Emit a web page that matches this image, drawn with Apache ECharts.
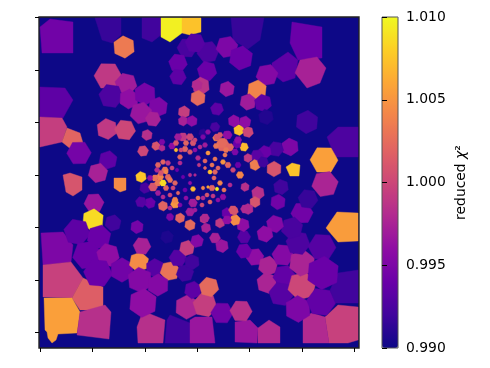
<!DOCTYPE html>
<html><head><meta charset="utf-8">
<script src="https://cdn.jsdelivr.net/npm/echarts@6/dist/echarts.min.js"></script>
<style>html,body{margin:0;padding:0;background:#fff}#c{width:490px;height:368px}</style>
</head><body><div id="c"></div>
<script>
// Map coordinates of the cell seeds; last field = reduced chi^2
const colorbarTicks = [0.990, 0.995, 1.000, 1.005, 1.010];
const xTickValues = [40, 92.4, 144.8, 197.2, 249.6, 302, 354.4];
const yTickValues = [17.5, 70, 122.5, 175, 227.5, 280, 332.5];
const plasma = ['#0d0887','#41049d','#6a00a8','#8f0da4','#b12a90','#cc4778','#e16462','#f2844b','#fca636','#fcce25','#f0f921'];

// large irregular cells: outline vertices
const bigCellOutlines = [
 [[40,27],[50,19],[73,22],[73,53],[42,53]],
 [[95,18],[121,18],[121,35],[112,43],[102,40]],
 [[142,18],[161,18],[161,35],[152,42],[142,38]],
 [[161,18],[182,18],[182,33],[170,42],[161,37]],
 [[182,18],[201,18],[201,32],[190,35],[182,33]],
 [[40,87],[65,88],[73,100],[63,118],[40,117]],
 [[40,117],[62,118],[67,127],[62,142],[40,147]],
 [[62,142],[67,128],[80,133],[83,143],[72,150]],
 [[231,18],[264,18],[260,40],[248,49],[233,40]],
 [[292,22],[322,27],[322,58],[298,60],[290,43]],
 [[272,63],[288,52],[298,60],[295,78],[283,82],[272,73]],
 [[295,73],[300,60],[317,57],[326,68],[320,83],[307,88]],
 [[327,137],[338,127],[358,127],[358,157],[335,157]],
 [[286,167],[292,163],[300,165],[299,176],[290,176]],
 [[114,178],[126,178],[126,190],[120,192],[114,188]],
 [[63,175],[70,173],[82,177],[82,190],[73,196],[66,192]],
 [[41,233],[63,232],[73,245],[71,262],[43,265]],
 [[43,265],[71,262],[83,278],[72,298],[43,297]],
 [[83,278],[103,287],[103,310],[80,310],[72,298]],
 [[44,298],[72,298],[80,312],[77,333],[58,334],[56,340],[52,343],[48,338],[47,332],[45,330]],
 [[80,312],[105,305],[111,312],[109,339],[77,335]],
 [[143,311],[165,320],[163,343],[138,343],[137,327]],
 [[170,315],[190,323],[190,343],[165,343],[167,320]],
 [[195,317],[212,317],[215,343],[190,343],[190,320]],
 [[235,322],[250,320],[258,328],[257,343],[235,342]],
 [[258,328],[269,320],[280,327],[280,343],[258,343]],
 [[338,273],[358,270],[358,303],[335,303],[330,290]],
 [[325,317],[338,305],[358,307],[358,340],[348,343],[329,343]],
 [[303,317],[312,313],[325,317],[329,343],[303,343]],
 [[326,228],[337,212],[358,213],[358,241],[338,242]]
];
const bigCellValues = [0.9944,0.9916,0.992,1.0096,1.0074,0.9934,0.9994,1.002,0.9916,0.994,0.9934,0.9974,0.9926,1.0074,1.0044,1.001,0.995,0.9996,1.0016,1.0056,0.9984,0.9984,0.992,0.9966,0.9966,0.998,0.992,0.9996,0.998,1.0054];

// roughly round cells: x, y, radius, value
const roundCells = [
[124,47,10,1.0034],[108,76,12.5,0.999],[126,84,10,0.997],[111,96,11,0.9926],[129,99,9,0.996],[145,94,10,0.9946],[158,107,9,0.995],[141,113,10,0.9966],[153,119,7,0.9974],[107,129,9.5,0.999],[125,130,9.5,1.0],
[79,153,11,0.9946],[108,160,8.5,0.9934],[98,173,9,0.9974],[187,48,9,0.9924],[178,63,8.5,0.994],[178,77,7.5,0.9934],[208,52,10,0.9926],[195,43,9,0.993],[227,47,10,0.995],[241,58,11,0.994],
[267,75,10,0.9954],[257,90,9,1.004],[248,102,7.5,0.997],[263,103,8,0.9934],[266,117,7,0.9908],[307,122,10.5,0.992],[290,147,8,0.995],[276,149,7,0.9924],[265,152,6,0.994],[257,156,6,0.9932],
[324,160,12.5,1.0056],[325,184,12,0.9976],[274,169,7,1.001],[255,165,5,1.0036],[263,162,5,0.992],[248,158,4,0.999],[244,147,4,1.007],[237,144,4,0.994],[239,130,5,1.0074],[248,132,5,1.0],[245,122,5.5,0.996],[234,121,5.5,0.996],
[227,89,7,0.9966],[207,71,9,0.994],[201,86,8,0.9986],[198,98,7,1.0024],[217,109,6,0.9934],[215,127,4.5,0.9924],[203,133,4,0.991],[227,135,4,0.996],[216,138,3,1.004],[223,145,6,1.002],[230,148,3,1.002],
[147,135,5,0.9984],[143,151,5,1.0],[156,146,4,1.001],[162,148,3,0.998],[184,112,5.5,0.9994],[183,121,4.5,0.9974],[192,121,5,0.996],[197,85,5,0.998],[141,177,5,1.0076],
[94,203,9,0.9966],[93,220,10,1.0086],[113,223,7.5,0.992],[137,227,6,0.9946],[77,232,12,0.9934],[99,237,11,0.994],[87,255,13,0.994],[108,255,10.5,0.996],[98,273,13,0.994],[122,270,11,0.9944],[139,262,9,1.0044],[142,246,8,0.9974],[155,268,8.5,0.993],[170,271,9,1.003],[140,280,11.5,0.9954],[158,285,10,0.9954],[143,303,13,0.996],[187,307,11,0.9976],[193,290,8,0.9934],[185,273,8,0.992],[178,258,8,0.993],[192,262,7,0.992],[187,248,7,0.9994],[197,241,6,0.9954],[167,237,6,0.9906],[190,225,5,1.0024],[180,218,4.5,1.002],[170,217,3.5,0.995],[163,206,4.5,1.002],[175,204,4,1.005],[150,203,5,0.994],[141,202,5,0.993],[145,188,5,0.9924],[190,212,4,0.997],[193,203,4,0.997],
[205,305,11,0.9994],[209,287,9,1.0024],[222,313,10,0.9944],[241,311,10,0.9984],[267,283,9.5,0.9976],[255,257,8,0.996],[268,266,9,0.9976],[283,255,10,0.9954],[284,276,10,0.9936],[281,294,11,0.993],[302,286,13,1.0],[302,263,12,0.9976],[298,243,11,0.9926],[322,247,12.5,0.993],[323,273,15,0.994],[298,309,12,0.995],[321,302,13,0.9936],
[302,213,10,0.9944],[292,228,10,0.9924],[275,224,8,0.9954],[265,234,7.5,0.996],[244,237,6,0.993],[244,251,7,0.994],[245,187,4,0.9984],[258,193,6,0.9984],[255,202,5,1.001],[248,209,5,0.998],[278,202,7,0.9944],[281,187,7,0.992],[308,199,9,0.9916],[243,225,6,0.996],[235,220,5,1.0044],[234,211,4,1.001],[227,213,5,0.994],[220,223,4.5,0.999],[204,219,4,0.999],[206,228,4.5,0.9974],[215,238,5,0.9974],[222,246,6,0.9966]
];

// dense cells around the centre
const centreCells = [
[183,137,4,0.999],[190,137,3.3,1.0],[178,137,3.3,0.997],[193,143,2.7,1.001],[176,150,1.7,1.007],[185,149,2.7,1.002],[190,152,2.3,1.001],[180,157,2.3,1.002],[195,150,2,0.996],[163,162,2.3,1.002],[172,146,3,0.996],[162,142,2.7,0.995],[165,170,3,1.003],[157,170,2.3,0.998],[172,168,2,1.0],[180,163,2,0.998],[160,177,3.3,1.004],[168,177,2.7,1.002],[153,187,4,1.001],[175,183,2.3,1.002],[173,188,2,1.0],[175,200,2.7,1.004],[163,197,2,0.998],[190,183,1.7,0.996],[198,198,2,1.003],[192,202,2.7,0.997],[205,218,4,0.998],[203,198,2,0.998],[210,202,2,1.002],[212,188,2.7,1.002],[220,183,2.3,1.004],[214,178,2,1.002],[210,172,2,1.007],[215,172,2.3,1.002],[208,153,2,1.005],[205,161,2,1.002],[215,159,2,1.003],[223,162,2.3,1.005],[228,165,2.7,1.002],[233,170,2.3,1.0],[222,143,4.7,1.0024],[217,137,3,1.001],[230,147,3.3,1.002],[228,135,3.7,0.996],[238,140,3.3,0.996],[235,152,3,0.995],[238,165,2.7,0.994],[240,175,3.3,1.004],[208,132,2.3,0.996],[203,137,2.3,0.995],[205,145,2.3,0.997],[198,158,2.3,0.998],[190,175,1.7,0.998],[195,175,1.3,0.998],[223,197,2.7,0.996],[233,210,4,1.001],[227,220,4,0.996],[245,209,4,0.998],[183,177,1.7,0.994],[168,163,2.3,0.999],[177,170,1.7,0.994],[185,190,2,0.994],[203,188,1.7,1.004],[208,187,1.3,1.006],
[158,165,2.5,1.002],[161,173,2.5,1.001],[155,178,3,1.003],[166,172,2,1.004],[170,180,2.5,1.003],[158,183,3,1.003],[166,188,2.5,1.002],[170,195,2,1.0],[178,193,1.7,1.002],[181,150,2,1.0],[176,143,2.5,1.001],[186,143,2.5,1.002],[195,140,2,1.0],[200,147,2,0.998],[199,165,1.7,0.999],[205,168,1.5,1.002],[212,165,2,1.003],[218,168,2,1.002],[225,155,2,1.003],[216,146,2.5,1.003],[226,150,2.5,1.003],[220,135,2.5,1.001],[207,195,2,1.001],[213,196,2,0.999],[202,205,2,1.0],[218,200,2,0.996],[224,190,2,1.003],[230,185,2,0.998],[180,205,2,0.995],[186,198,2,0.996],[195,210,2,0.997],[170,208,2,0.998],[158,193,2.5,0.997],[150,178,2.5,0.996],
[163,183,3,1.0086],[193,189,2.3,1.007],[217,189,1.7,1.0096]
];

const chart = echarts.init(document.getElementById('c'), null, {renderer:'canvas'});
const fontFamily = '"DejaVu Sans"';

function polygonItem(api, pts){
  return {type:'polygon', shape:{points:pts.map(p=>api.coord(p))},
    style:{fill:api.visual('color'), stroke:api.visual('color'), lineWidth:0.4}};
}
const ring = [0,1,2,3,4,5];
chart.setOption({
  animation:false,
  backgroundColor:'#ffffff',
  grid:[
    {left:39,top:17,width:320,height:331,show:true,backgroundColor:'#0d0887',borderColor:'#222222',borderWidth:1.4},
    {left:382,top:17,width:16,height:331,show:false}
  ],
  xAxis:[
    {gridIndex:0,type:'value',min:39,max:359,position:'bottom',splitLine:{show:false},axisLine:{show:false},
     axisTick:{show:true,length:4,customValues:xTickValues,lineStyle:{color:'#000',width:1}},axisLabel:{show:false}},
    {gridIndex:1,type:'value',min:0,max:1,show:false}
  ],
  yAxis:[
    {gridIndex:0,type:'value',inverse:true,min:17,max:348,position:'left',splitLine:{show:false},axisLine:{show:false},
     axisTick:{show:true,length:4,customValues:yTickValues,lineStyle:{color:'#000',width:1}},axisLabel:{show:false}},
    {gridIndex:1,type:'value',min:0.990,max:1.010,position:'right',z:30,splitLine:{show:false},
     axisLine:{show:false},axisTick:{show:true,length:5,customValues:colorbarTicks,lineStyle:{color:'#000',width:1}},
     axisLabel:{margin:8,customValues:colorbarTicks,color:'#000',fontFamily,fontSize:13.9,formatter:v=>v.toFixed(3)},
     name:'{a|reduced }{b|χ}{c|²}',nameLocation:'middle',nameGap:56,nameRotate:90,
     nameTextStyle:{color:'#000',fontFamily,fontSize:13.9,rich:{
       a:{fontFamily,fontSize:13.9,color:'#000'},b:{fontFamily,fontSize:13.9,fontStyle:'italic',color:'#000'},c:{fontFamily,fontSize:13.9,color:'#000'}}}}
  ],
  visualMap:{type:'continuous',seriesIndex:[0,1,2],dimension:3,min:0.990,max:1.010,left:382,top:17,padding:0,
    itemWidth:16,itemHeight:331,calculable:false,realtime:false,hoverLink:false,inRange:{color:plasma},text:null,
    showLabel:false},
  series:[
    {type:'custom',xAxisIndex:0,yAxisIndex:0,silent:true,clip:true,z:2,encode:{x:0,y:1},
     data:bigCellOutlines.map((_,i)=>[i,0,0,bigCellValues[i]]),
     renderItem:(p,api)=>polygonItem(api,bigCellOutlines[api.value(0)])},
    {type:'custom',xAxisIndex:0,yAxisIndex:0,silent:true,clip:true,z:3,encode:{x:0,y:1},
     data:roundCells,
     renderItem:(p,api)=>{
       const x=api.value(0),y=api.value(1),r=api.value(2)*1.12,a0=(x+y)*0.37;
       return polygonItem(api,ring.map(k=>[x+r*Math.cos(a0+k*Math.PI/3),y+r*Math.sin(a0+k*Math.PI/3)]));
     }},
    {type:'custom',xAxisIndex:0,yAxisIndex:0,silent:true,clip:true,z:4,encode:{x:0,y:1},
     data:centreCells,
     renderItem:(p,api)=>{
       const x=api.value(0),y=api.value(1),r=api.value(2)*1.15;
       return polygonItem(api,ring.map(k=>[x+r*Math.cos(k*Math.PI/3),y+r*Math.sin(k*Math.PI/3)]));
     }},
    {type:'custom',xAxisIndex:1,yAxisIndex:1,silent:true,z:30,data:[[0,0.990,1,1.010]],encode:{x:[0,2],y:[1,3]},
     renderItem:(p,api)=>{
       const a=api.coord([api.value(0),api.value(1)]),b=api.coord([api.value(2),api.value(3)]);
       return {type:'rect',shape:{x:a[0],y:b[1],width:b[0]-a[0],height:a[1]-b[1]},style:{fill:'none',stroke:'#555555',lineWidth:1}};
     }}
  ]
});
</script></body></html>
